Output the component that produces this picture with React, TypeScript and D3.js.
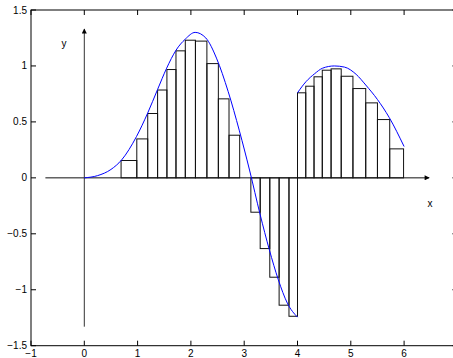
import * as d3 from "d3";

// blue curve (two pieces, jump at x = 4)
const curve1X = [0, 0.25, 0.5, 0.7, 0.98, 1.19, 1.375, 1.545, 1.72, 1.895, 2.08, 2.28, 2.48, 2.7, 2.91, 3.1, 3.3, 3.47, 3.64, 3.81, 4.0];
const curve1Y = [0, 0.02, 0.075, 0.16, 0.37, 0.58, 0.79, 0.98, 1.14, 1.24, 1.3, 1.25, 1.07, 0.77, 0.42, 0.07, -0.33, -0.64, -0.91, -1.12, -1.245];
const curve2X = [4.0, 4.16, 4.32, 4.47, 4.69, 4.88, 5.1, 5.28, 5.5, 5.72, 6.0];
const curve2Y = [0.76, 0.86, 0.93, 0.98, 1.0, 0.99, 0.925, 0.83, 0.7, 0.54, 0.28];

// bar partition and bar heights
const barEdges = [0.69, 0.985, 1.19, 1.375, 1.55, 1.72, 1.895, 2.085, 2.3, 2.515, 2.715, 2.915, 3.125, 3.3, 3.48, 3.655, 3.84, 4.0, 4.155, 4.31, 4.465, 4.63, 4.82, 5.04, 5.28, 5.5, 5.73, 5.99];
const barValues = [0.155, 0.348, 0.575, 0.785, 0.968, 1.135, 1.23, 1.222, 1.021, 0.706, 0.381, 0, -0.307, -0.632, -0.888, -1.138, -1.237, 0.76, 0.819, 0.903, 0.962, 0.974, 0.908, 0.798, 0.67, 0.521, 0.259];

const xTicks = [-1, 0, 1, 2, 3, 4, 5, 6, 7];
const xTickLabels = ["\u22121", "0", "1", "2", "3", "4", "5", "6"];
const yTicks = [-1.5, -1, -0.5, 0, 0.5, 1, 1.5];
const yTickLabels = ["\u22121.5", "\u22121", "\u22120.5", "0", "0.5", "1", "1.5"];

const W = 453;
const H = 358;

export default function App() {
  const x = d3.scaleLinear().domain([-1, 7]).range([31, 457.4]);
  const y = d3.scaleLinear().domain([-1.5, 1.5]).range([345.7, 10]);

  const line = d3
    .line<[number, number]>()
    .x((d) => x(d[0]))
    .y((d) => y(d[1]))
    .curve(d3.curveMonotoneX);

  const piece1 = curve1X.map((v, i) => [v, curve1Y[i]] as [number, number]);
  const piece2 = curve2X.map((v, i) => [v, curve2Y[i]] as [number, number]);

  const font = "'Liberation Sans', Arial, Helvetica, sans-serif";

  return (
    <svg
      width={W}
      height={H}
      style={{ position: "absolute", left: 0, top: 0, background: "#fff" }}
    >
      <defs>
        <marker id="arr" viewBox="0 0 10 10" refX="9" refY="5" markerWidth="6" markerHeight="5" markerUnits="userSpaceOnUse" orient="auto">
          <path d="M0,0 L10,5 L0,10 z" fill="#000" />
        </marker>
      </defs>

      {/* bars */}
      <g fill="none" stroke="#111" strokeWidth={1}>
        {barValues.map((v, i) => {
          const x0 = x(barEdges[i]);
          const x1 = x(barEdges[i + 1]);
          const yTop = y(Math.max(0, v));
          const yBot = y(Math.min(0, v));
          return <rect key={i} x={x0} y={yTop} width={x1 - x0} height={yBot - yTop} />;
        })}
      </g>

      {/* arrow axes */}
      <line x1={x(-0.73)} x2={x(6.47)} y1={y(0)} y2={y(0)} stroke="#111" strokeWidth={1} markerEnd="url(#arr)" />
      <line x1={x(0)} x2={x(0)} y1={y(-1.33)} y2={y(1.33)} stroke="#333" strokeWidth={1} markerEnd="url(#arr)" />

      {/* curve */}
      <path d={line(piece1) || ""} fill="none" stroke="#0000ff" strokeWidth={1} />
      <path d={line(piece2) || ""} fill="none" stroke="#0000ff" strokeWidth={1} />

      {/* axes box */}
      <rect x={x(-1)} y={y(1.5)} width={x(7) - x(-1)} height={y(-1.5) - y(1.5)} fill="none" stroke="#000" strokeWidth={1} />

      {/* ticks */}
      <g stroke="#000" strokeWidth={1}>
        {xTicks.map((t) => (
          <g key={"xt" + t}>
            <line x1={x(t)} x2={x(t)} y1={y(-1.5)} y2={y(-1.5) - 5} />
            <line x1={x(t)} x2={x(t)} y1={y(1.5)} y2={y(1.5) + 5} />
          </g>
        ))}
        {yTicks.map((t) => (
          <g key={"yt" + t}>
            <line x1={x(-1)} x2={x(-1) + 5} y1={y(t)} y2={y(t)} />
            <line x1={x(7)} x2={x(7) - 5} y1={y(t)} y2={y(t)} />
          </g>
        ))}
      </g>

      <g fontFamily={font} fontSize={10} fill="#000">
        {xTickLabels.map((s, i) => (
          <text key={"xl" + i} x={x(xTicks[i])} y={357} textAnchor="middle">
            {s}
          </text>
        ))}
        {yTickLabels.map((s, i) => (
          <text key={"yl" + i} x={27} y={y(yTicks[i]) + 3.5} textAnchor="end">
            {s}
          </text>
        ))}
        <text x={430} y={207} textAnchor="middle">x</text>
        <text x={64} y={47} textAnchor="middle">y</text>
      </g>
    </svg>
  );
}
